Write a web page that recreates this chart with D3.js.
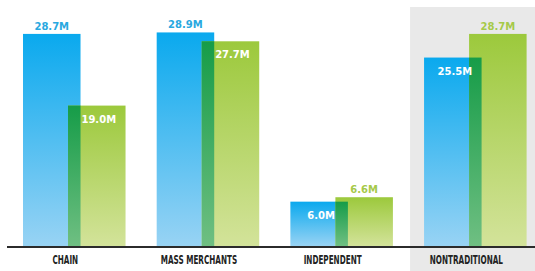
<!DOCTYPE html>
<html>
<head>
<meta charset="utf-8">
<script src="https://cdn.jsdelivr.net/npm/d3@7"></script>
<style>
  body { margin: 0; background: #fff; }
  svg { display: block; }
</style>
</head>
<body>
<div id="chart"></div>
<script>
// categories and the two series (millions)
var categories = ["CHAIN", "MASS MERCHANTS", "INDEPENDENT", "NONTRADITIONAL"];
var blueValues = [28.7, 28.9, 6.0, 25.5];
var greenValues = [19.0, 27.7, 6.6, 28.7];
var highlighted = "NONTRADITIONAL";

var width = 535, height = 271;
var baseline = 246;

var svg = d3.select("#chart").append("svg")
  .attr("width", width)
  .attr("height", height);

var defs = svg.append("defs");
function grad(id, top, bottom) {
  var g = defs.append("linearGradient").attr("id", id)
    .attr("x1", 0).attr("y1", 0).attr("x2", 0).attr("y2", 1);
  g.append("stop").attr("offset", "0%").attr("stop-color", top);
  g.append("stop").attr("offset", "100%").attr("stop-color", bottom);
}
grad("gBlue", "#0aa9ee", "#98d3f4");
grad("gGreen", "#9cc93c", "#d3e39a");
grad("gMix", "#169c48", "#6fbf82");

var x = d3.scaleBand()
  .domain(categories)
  .range([23, 526.6])
  .paddingInner(0.233)
  .paddingOuter(0);

var y = d3.scaleLinear()
  .domain([0, 30])
  .range([baseline, baseline - 221.7]);

var bw = x.bandwidth();
var barW = bw * 0.561;
var offset = bw - barW;

// gray panel behind the highlighted group
svg.append("rect")
  .attr("x", x(highlighted) - 14)
  .attr("y", 7)
  .attr("width", width - (x(highlighted) - 14))
  .attr("height", height - 7)
  .attr("fill", "#e9e9e9");

var data = categories.map(function (c, i) {
  return { cat: c, blue: blueValues[i], green: greenValues[i] };
});

var groups = svg.selectAll(".grp")
  .data(data)
  .enter()
  .append("g")
  .attr("class", "grp")
  .attr("transform", function (d) { return "translate(" + x(d.cat) + ",0)"; });

// blue bar
groups.append("rect")
  .attr("x", 0)
  .attr("y", function (d) { return y(d.blue); })
  .attr("width", barW)
  .attr("height", function (d) { return baseline - y(d.blue); })
  .attr("fill", "url(#gBlue)");

// green bar
groups.append("rect")
  .attr("x", offset)
  .attr("y", function (d) { return y(d.green); })
  .attr("width", barW)
  .attr("height", function (d) { return baseline - y(d.green); })
  .attr("fill", "url(#gGreen)");

// overlap of the two bars
groups.append("rect")
  .attr("x", offset)
  .attr("y", function (d) { return y(Math.min(d.blue, d.green)); })
  .attr("width", barW - offset)
  .attr("height", function (d) { return baseline - y(Math.min(d.blue, d.green)); })
  .attr("fill", "url(#gMix)");

// value labels: taller bar gets label above, shorter one inside in white
function addLabel(sel, key, x0, color) {
  sel.append("text")
    .attr("x", function (d) {
      var above = d[key] >= d[key == "blue" ? "green" : "blue"];
      return x0 + barW / 2 + (above ? 0 : 2);
    })
    .attr("y", function (d) {
      var above = d[key] >= d[key == "blue" ? "green" : "blue"];
      return above ? y(d[key]) - 4 : y(d[key]) + 17;
    })
    .attr("text-anchor", "middle")
    .attr("font-family", "DejaVu Sans, sans-serif")
    .attr("font-weight", "bold")
    .attr("font-size", 10)
    .attr("fill", function (d) {
      var above = d[key] >= d[key == "blue" ? "green" : "blue"];
      return above ? color : "#ffffff";
    })
    .text(function (d) { return d[key].toFixed(1) + "M"; });
}
addLabel(groups, "blue", 0, "#29a8e0");
addLabel(groups, "green", offset, "#a6c94a");

// baseline
svg.append("line")
  .attr("x1", 7).attr("x2", width)
  .attr("y1", baseline + 1).attr("y2", baseline + 1)
  .attr("stroke", "#2b2b2b")
  .attr("stroke-width", 2);

// category labels, squeezed to look condensed
groups.append("g")
  .attr("transform", "translate(" + (bw / 2 - 9) + ",263.5) scale(0.63,1)")
  .append("text")
  .attr("text-anchor", "middle")
  .attr("font-family", "DejaVu Sans, sans-serif")
  .attr("font-weight", "bold")
  .attr("font-size", 11.5)
  .attr("fill", "#222")
  .text(function (d) { return d.cat; });
</script>
</body>
</html>
